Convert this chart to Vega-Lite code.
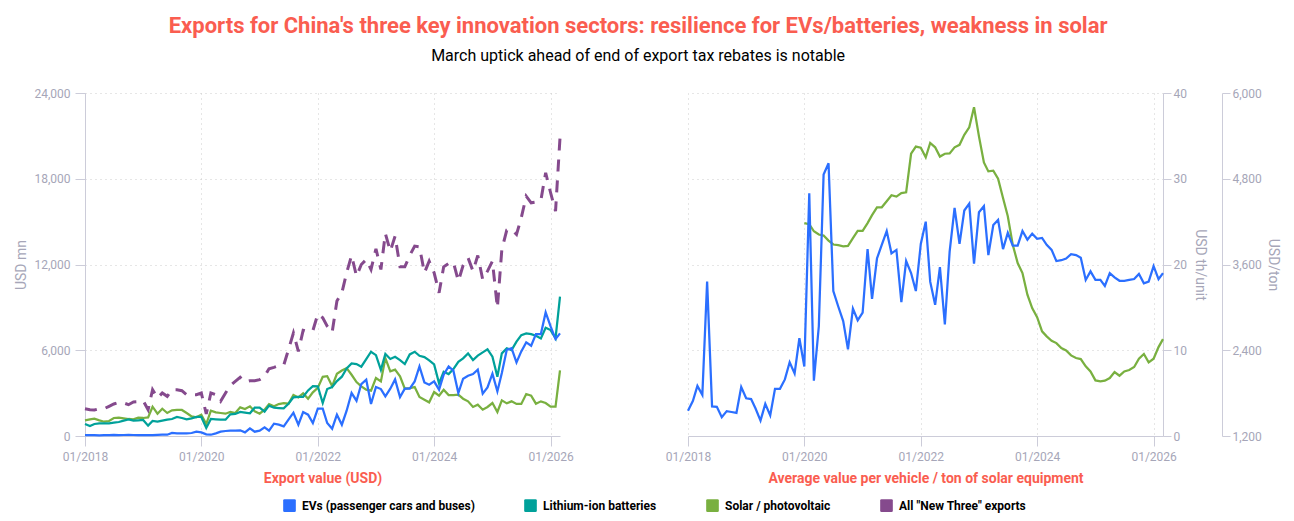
{
"$schema":"https://vega.github.io/schema/vega-lite/v6.json",
"padding":{"left":14,"top":15,"right":5,"bottom":5},
"config":{"font":"Roboto","view":{"stroke":null},"axis":{"labelFont":"Roboto","titleFont":"Roboto","labelColor":"#a6a6b8","titleColor":"#a6a6b8","domainColor":"#ccccd9","tickColor":"#ccccd9","gridColor":"#cccccc","gridDash":[1,4],"labelFontSize":12,"titleFontSize":14,"titleFontWeight":"normal"}},
"title":{"text":"Exports for China's three key innovation sectors: resilience for EVs/batteries, weakness in solar","subtitle":"March uptick ahead of end of export tax rebates is notable","color":"#fa5d50","fontSize":22,"fontWeight":"bold","font":"Roboto","subtitleColor":"#000000","subtitleFontSize":16,"subtitleFont":"Roboto","subtitlePadding":10,"anchor":"middle","offset":22,"dx":-9},
"data":{"values":[
{"d":"2018-01-01","ev":60,"li":840,"so":1095,"all":1910,"evu":2.95},
{"d":"2018-02-01","ev":60,"li":700,"so":1165,"all":1840,"evu":4.1},
{"d":"2018-03-01","ev":60,"li":840,"so":1210,"all":1820,"evu":5.85},
{"d":"2018-04-01","ev":50,"li":885,"so":1095,"all":1910,"evu":4.8},
{"d":"2018-05-01","ev":60,"li":885,"so":1000,"all":1910,"evu":18.0},
{"d":"2018-06-01","ev":60,"li":885,"so":1050,"all":2075,"evu":3.45},
{"d":"2018-07-01","ev":70,"li":930,"so":1260,"all":2240,"evu":3.4},
{"d":"2018-08-01","ev":60,"li":980,"so":1280,"all":2355,"evu":2.2},
{"d":"2018-09-01","ev":70,"li":1070,"so":1235,"all":2310,"evu":2.9},
{"d":"2018-10-01","ev":80,"li":1165,"so":1190,"all":2190,"evu":2.8},
{"d":"2018-11-01","ev":70,"li":1070,"so":1165,"all":2380,"evu":2.7},
{"d":"2018-12-01","ev":60,"li":1095,"so":1280,"all":2400,"evu":5.7},
{"d":"2019-01-01","ev":70,"li":1120,"so":1260,"all":2470,"evu":4.4},
{"d":"2019-02-01","ev":70,"li":725,"so":1305,"all":1840,"evu":4.3},
{"d":"2019-03-01","ev":70,"li":1050,"so":2050,"all":3240,"evu":3.2},
{"d":"2019-04-01","ev":80,"li":1000,"so":1560,"all":2660,"evu":1.8},
{"d":"2019-05-01","ev":90,"li":1070,"so":1910,"all":3010,"evu":3.75},
{"d":"2019-06-01","ev":90,"li":1140,"so":1610,"all":2775,"evu":2.4},
{"d":"2019-07-01","ev":210,"li":1190,"so":1795,"all":3240,"evu":5.5},
{"d":"2019-08-01","ev":185,"li":1330,"so":1820,"all":3240,"evu":5.5},
{"d":"2019-09-01","ev":185,"li":1260,"so":1820,"all":3170,"evu":6.6},
{"d":"2019-10-01","ev":185,"li":1165,"so":1610,"all":2890,"evu":8.6},
{"d":"2019-11-01","ev":210,"li":1235,"so":1375,"all":2890,"evu":7.3},
{"d":"2019-12-01","ev":300,"li":1330,"so":1305,"all":2890,"evu":11.4},
{"d":"2020-01-01","ev":255,"li":1330,"so":1490,"all":3010,"evu":8.1,"sot":4180},
{"d":"2020-02-01","ev":115,"li":560,"so":840,"all":1540,"evu":28.3,"sot":4165},
{"d":"2020-03-01","ev":90,"li":1190,"so":1770,"all":3010,"evu":6.45,"sot":4065},
{"d":"2020-04-01","ev":185,"li":1165,"so":1655,"all":2890,"evu":12.8,"sot":4020},
{"d":"2020-05-01","ev":300,"li":1140,"so":1610,"all":2430,"evu":30.5,"sot":4005},
{"d":"2020-06-01","ev":350,"li":1140,"so":1560,"all":3010,"evu":31.8,"sot":3935},
{"d":"2020-07-01","ev":370,"li":1515,"so":1680,"all":3520,"evu":16.9,"sot":3880},
{"d":"2020-08-01","ev":370,"li":1540,"so":1610,"all":3825,"evu":15.1,"sot":3870},
{"d":"2020-09-01","ev":400,"li":1680,"so":2005,"all":4105,"evu":13.4,"sot":3855},
{"d":"2020-10-01","ev":255,"li":1630,"so":1890,"all":3780,"evu":10.1,"sot":3860},
{"d":"2020-11-01","ev":535,"li":1585,"so":2075,"all":3870,"evu":14.85,"sot":3970},
{"d":"2020-12-01","ev":300,"li":1980,"so":1725,"all":3870,"evu":13.5,"sot":4070},
{"d":"2021-01-01","ev":370,"li":1980,"so":1560,"all":3940,"evu":14.4,"sot":4070},
{"d":"2021-02-01","ev":600,"li":1700,"so":1840,"all":4175,"evu":21.8,"sot":4180},
{"d":"2021-03-01","ev":370,"li":2120,"so":2235,"all":4710,"evu":16.0,"sot":4290},
{"d":"2021-04-01","ev":860,"li":1980,"so":2075,"all":4805,"evu":20.7,"sot":4400},
{"d":"2021-05-01","ev":790,"li":1955,"so":2235,"all":4920,"evu":22.3,"sot":4400},
{"d":"2021-06-01","ev":675,"li":1935,"so":2305,"all":4945,"evu":23.9,"sot":4485},
{"d":"2021-07-01","ev":1140,"li":2260,"so":2260,"all":6040,"evu":21.3,"sot":4570},
{"d":"2021-08-01","ev":1630,"li":2700,"so":2865,"all":7210,"evu":21.7,"sot":4550},
{"d":"2021-09-01","ev":790,"li":2745,"so":2700,"all":5925,"evu":15.6,"sot":4600},
{"d":"2021-10-01","ev":1675,"li":2745,"so":2980,"all":7395,"evu":20.4,"sot":4610},
{"d":"2021-11-01","ev":1490,"li":3190,"so":2610,"all":7300,"evu":19.0,"sot":5150},
{"d":"2021-12-01","ev":910,"li":3495,"so":3055,"all":7370,"evu":16.9,"sot":5250},
{"d":"2022-01-01","ev":1910,"li":3470,"so":3370,"all":8530,"evu":22.4,"sot":5235},
{"d":"2022-02-01","ev":1910,"li":2310,"so":4140,"all":8270,"evu":25.0,"sot":5100},
{"d":"2022-03-01","ev":910,"li":3290,"so":4190,"all":7690,"evu":18.0,"sot":5300},
{"d":"2022-04-01","ev":510,"li":3430,"so":3490,"all":7250,"evu":15.3,"sot":5240},
{"d":"2022-05-01","ev":1490,"li":3845,"so":4350,"all":9440,"evu":19.7,"sot":5110},
{"d":"2022-06-01","ev":790,"li":4150,"so":4585,"all":10020,"evu":13.0,"sot":5150},
{"d":"2022-07-01","ev":1770,"li":4730,"so":4750,"all":11420,"evu":21.5,"sot":5155},
{"d":"2022-08-01","ev":3005,"li":5080,"so":4285,"all":12630,"evu":26.6,"sot":5240},
{"d":"2022-09-01","ev":2470,"li":5035,"so":3775,"all":11185,"evu":22.4,"sot":5275},
{"d":"2022-10-01","ev":3635,"li":4850,"so":3470,"all":12000,"evu":26.3,"sot":5415},
{"d":"2022-11-01","ev":3940,"li":5385,"so":3240,"all":12350,"evu":27.1,"sot":5520},
{"d":"2022-12-01","ev":2235,"li":5895,"so":3170,"all":11650,"evu":20.1,"sot":5800},
{"d":"2023-01-01","ev":3425,"li":5660,"so":4055,"all":13100,"evu":26.1,"sot":5393},
{"d":"2023-02-01","ev":3285,"li":4625,"so":3820,"all":11650,"evu":26.8,"sot":5029},
{"d":"2023-03-01","ev":2770,"li":5740,"so":5450,"all":14170,"evu":21.1,"sot":4903},
{"d":"2023-04-01","ev":3310,"li":5390,"so":4520,"all":12930,"evu":24.6,"sot":4912},
{"d":"2023-05-01","ev":3960,"li":5545,"so":4640,"all":13985,"evu":25.2,"sot":4801},
{"d":"2023-06-01","ev":2725,"li":5310,"so":4170,"all":11835,"evu":21.8,"sot":4530},
{"d":"2023-07-01","ev":3310,"li":5035,"so":3310,"all":11835,"evu":23.7,"sot":4274},
{"d":"2023-08-01","ev":3310,"li":5710,"so":3355,"all":12630,"evu":22.2,"sot":3877},
{"d":"2023-09-01","ev":3820,"li":5895,"so":3425,"all":13290,"evu":22.2,"sot":3620},
{"d":"2023-10-01","ev":4870,"li":5615,"so":2725,"all":13240,"evu":23.9,"sot":3480},
{"d":"2023-11-01","ev":3750,"li":5520,"so":2540,"all":11420,"evu":22.9,"sot":3177},
{"d":"2023-12-01","ev":3590,"li":5290,"so":2355,"all":12235,"evu":23.6,"sot":2990},
{"d":"2024-01-01","ev":3820,"li":5010,"so":3075,"all":11420,"evu":23.0,"sot":2864},
{"d":"2024-02-01","ev":3240,"li":3680,"so":2820,"all":10020,"evu":23.1,"sot":2664},
{"d":"2024-03-01","ev":4290,"li":4500,"so":3240,"all":11835,"evu":22.3,"sot":2594},
{"d":"2024-04-01","ev":4870,"li":4335,"so":2865,"all":12070,"evu":21.7,"sot":2533},
{"d":"2024-05-01","ev":4570,"li":4680,"so":2865,"all":12165,"evu":20.4,"sot":2500},
{"d":"2024-06-01","ev":3005,"li":5195,"so":2890,"all":10835,"evu":20.5,"sot":2430},
{"d":"2024-07-01","ev":4010,"li":5430,"so":2610,"all":11935,"evu":20.7,"sot":2398},
{"d":"2024-08-01","ev":4220,"li":5780,"so":2425,"all":12470,"evu":21.2,"sot":2328},
{"d":"2024-09-01","ev":4335,"li":5315,"so":2030,"all":11535,"evu":21.1,"sot":2291},
{"d":"2024-10-01","ev":4640,"li":5620,"so":2190,"all":12630,"evu":20.8,"sot":2277},
{"d":"2024-11-01","ev":2960,"li":5850,"so":1840,"all":10950,"evu":18.2,"sot":2174},
{"d":"2024-12-01","ev":3400,"li":6060,"so":2030,"all":11535,"evu":19.2,"sot":2104},
{"d":"2025-01-01","ev":4360,"li":5550,"so":2305,"all":12235,"evu":18.2,"sot":1978},
{"d":"2025-02-01","ev":3120,"li":4150,"so":1680,"all":8970,"evu":18.2,"sot":1965},
{"d":"2025-03-01","ev":4405,"li":5780,"so":2495,"all":13050,"evu":17.5,"sot":1974},
{"d":"2025-04-01","ev":6030,"li":6130,"so":2285,"all":14400,"evu":19.0,"sot":2011},
{"d":"2025-05-01","ev":6150,"li":6015,"so":2425,"all":14450,"evu":18.5,"sot":2095},
{"d":"2025-06-01","ev":5150,"li":6600,"so":2240,"all":14100,"evu":18.1,"sot":2044},
{"d":"2025-07-01","ev":5920,"li":7060,"so":2240,"all":15270,"evu":18.1,"sot":2104},
{"d":"2025-08-01","ev":6550,"li":7180,"so":2935,"all":16780,"evu":18.2,"sot":2123},
{"d":"2025-09-01","ev":6315,"li":7130,"so":2820,"all":16315,"evu":18.3,"sot":2165},
{"d":"2025-10-01","ev":7130,"li":7010,"so":2260,"all":16370,"evu":18.9,"sot":2281},
{"d":"2025-11-01","ev":7130,"li":6830,"so":2425,"all":16500,"evu":17.8,"sot":2347},
{"d":"2025-12-01","ev":8645,"li":7575,"so":2305,"all":18420,"evu":18.0,"sot":2230},
{"d":"2026-01-01","ev":7670,"li":7410,"so":2050,"all":17020,"evu":19.8,"sot":2281},
{"d":"2026-02-01","ev":6780,"li":6830,"so":2050,"all":15730,"evu":18.3,"sot":2444},
{"d":"2026-03-01","ev":7180,"li":9760,"so":4590,"all":20870,"evu":19.0,"sot":2556}
]},
"spacing":91,
"hconcat":[
{"width":475,"height":343,
"encoding":{"x":{"field":"d","type":"temporal","scale":{"type":"utc","domain":["2018-01-01","2026-03-01"],"nice":false},
"axis":{"title":"Export value (USD)","titleColor":"#fa5d50","titleFontWeight":"bold","titleFontSize":14,"titlePadding":9,"format":"%m/%Y","tickCount":{"interval":"year","step":2},"tickSize":10,"labelPadding":5,"grid":true,"labelFlush":false}}},
"layer":[
{"mark":{"type":"line","strokeWidth":3,"strokeDash":[12,9]},"encoding":{"y":{"field":"all","type":"quantitative","scale":{"domain":[0,24000],"nice":false},"axis":{"title":"USD mn","values":[0,6000,12000,18000,24000],"format":",.0f","grid":true,"tickSize":10,"labelPadding":5,"titlePadding":5}},"color":{"datum":"All \"New Three\" exports","scale":{"domain":["EVs (passenger cars and buses)","Lithium-ion batteries","Solar / photovoltaic","All \"New Three\" exports"],"range":["#2b6fff","#00a19a","#79b040","#854a8d"]},
"legend":{"title":null,"orient":"none","legendX":198,"legendY":406,"columns":4,"columnPadding":49,"labelOffset":6,"symbolType":"M -0.8 -1 L 0.8 -1 Q 1 -1 1 -0.8 L 1 0.8 Q 1 1 0.8 1 L -0.8 1 Q -1 1 -1 0.8 L -1 -0.8 Q -1 -1 -0.8 -1 Z","symbolSize":160,"symbolStrokeWidth":0,"labelFontSize":12,"labelFontWeight":"bold","labelColor":"#000000","labelFont":"Roboto","labelLimit":300,"encode":{"symbols":{"update":{"fill":{"scale":"color","field":"value"},"opacity":{"value":1}}}}}}}},
{"mark":{"type":"line","strokeWidth":2.25},"encoding":{"y":{"field":"so","type":"quantitative"},"color":{"datum":"Solar / photovoltaic"}}},
{"mark":{"type":"line","strokeWidth":2.25},"encoding":{"y":{"field":"li","type":"quantitative"},"color":{"datum":"Lithium-ion batteries"}}},
{"mark":{"type":"line","strokeWidth":2.25},"encoding":{"y":{"field":"ev","type":"quantitative"},"color":{"datum":"EVs (passenger cars and buses)"}}}
]},
{"width":475,"height":343,
"encoding":{"x":{"field":"d","type":"temporal","scale":{"type":"utc","domain":["2018-01-01","2026-03-01"],"nice":false},
"axis":{"title":"Average value per vehicle / ton of solar equipment","titleColor":"#fa5d50","titleFontWeight":"bold","titleFontSize":14,"titlePadding":9,"format":"%m/%Y","tickCount":{"interval":"year","step":2},"tickSize":10,"labelPadding":5,"grid":true,"labelFlush":false}}},
"layer":[
{"mark":{"type":"line","strokeWidth":2.25},"encoding":{"y":{"field":"sot","type":"quantitative","scale":{"domain":[1200,6000],"nice":false},"axis":{"orient":"right","offset":59,"title":"USD/ton","values":[1200,2400,3600,4800,6000],"format":",.0f","grid":false,"tickSize":8,"labelPadding":2,"titlePadding":4}},"color":{"datum":"Solar / photovoltaic"}}},
{"mark":{"type":"line","strokeWidth":2.25},"encoding":{"y":{"field":"evu","type":"quantitative","scale":{"domain":[0,40],"nice":false},"axis":{"orient":"right","title":"USD th/unit","values":[0,10,20,30,40],"format":".0f","grid":true,"tickSize":8,"labelPadding":2,"titlePadding":6}},"color":{"datum":"EVs (passenger cars and buses)"}}}
],
"resolve":{"scale":{"y":"independent"}}}
]
}
